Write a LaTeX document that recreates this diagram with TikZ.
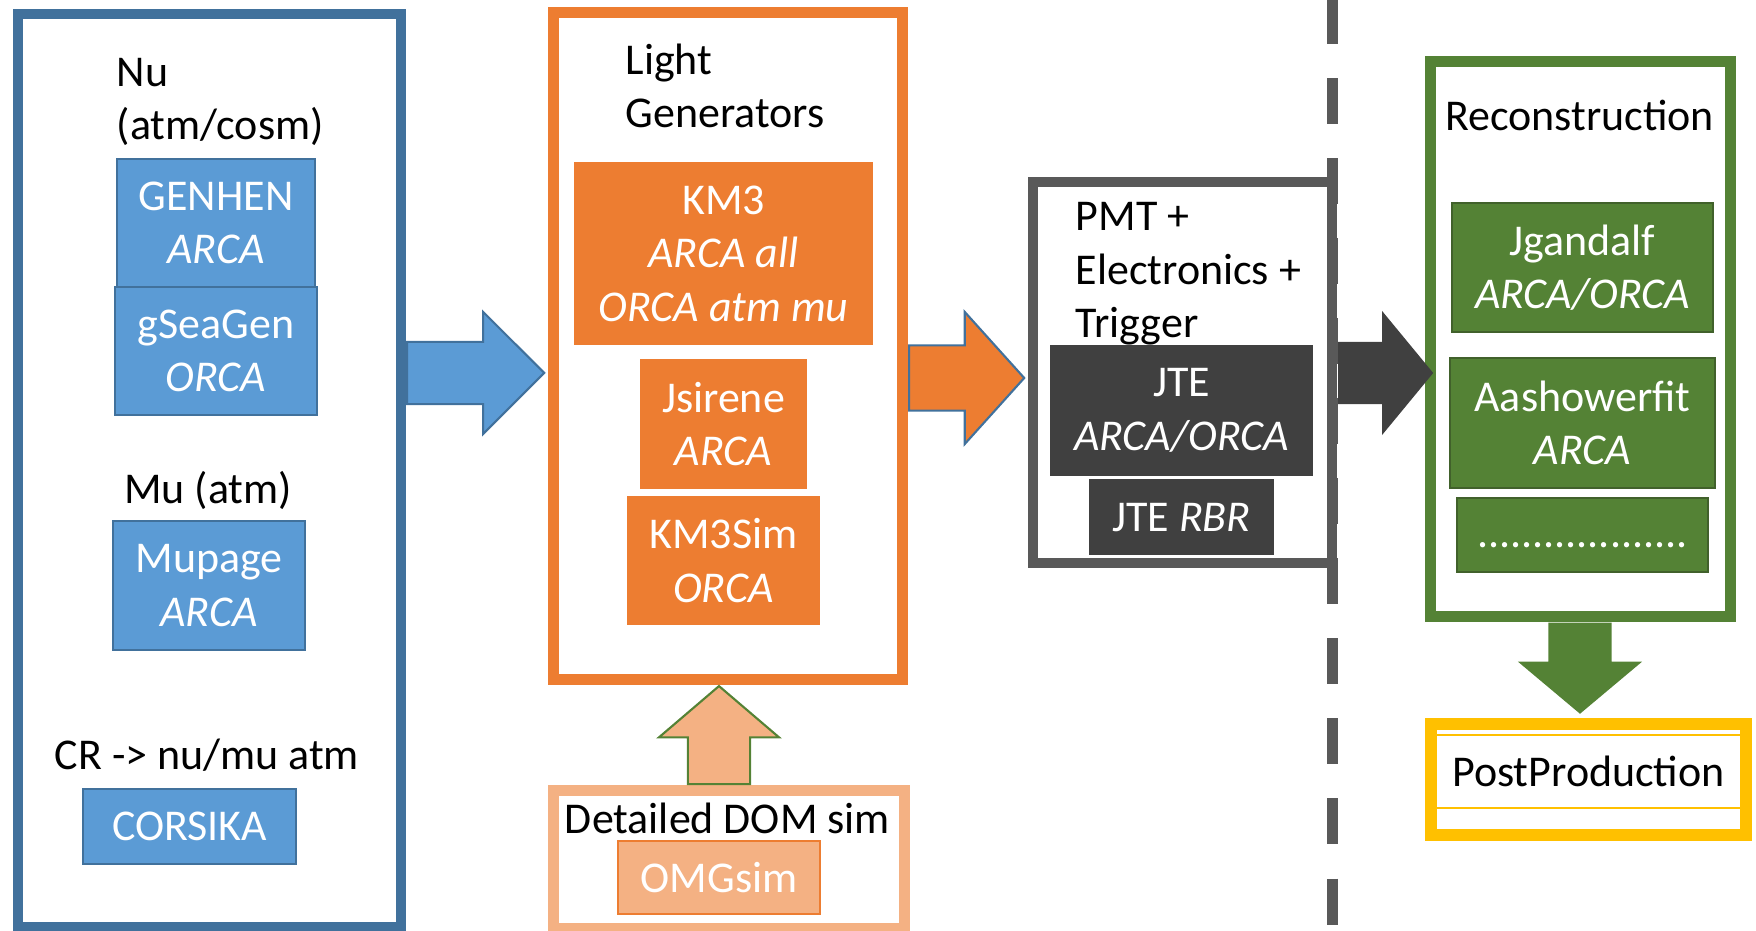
\documentclass[tikz,border=0pt]{standalone}
\usepackage{fontspec}
\setmainfont{Carlito}
\usetikzlibrary{positioning,shapes.arrows}

\definecolor{simblue}{HTML}{5B9BD5}
\definecolor{simblueline}{HTML}{41719C}
\definecolor{simorange}{HTML}{ED7D31}
\definecolor{simpeach}{HTML}{F4B183}
\definecolor{simgray}{HTML}{595959}
\definecolor{simdark}{HTML}{404040}
\definecolor{simgreen}{HTML}{548235}
\definecolor{simgreenline}{HTML}{41612B}
\definecolor{simyellow}{HTML}{FFC000}

\begin{document}
\begin{tikzpicture}[x=0.01cm, y=-0.01cm, on grid,
    every node/.style={inner sep=0pt, font=\fontsize{12.5}{15.2}\selectfont},
    stageframe/.style={draw=#1, line width=0.11cm},
    srcbox/.style={fill=simblue, draw=simblueline, line width=0.6pt, text=white, align=center},
    lightbox/.style={fill=simorange, text=white, align=center},
    trigbox/.style={fill=simdark, draw=black!75, line width=0.6pt, text=white, align=center},
    recobox/.style={fill=simgreen, draw=simgreenline, line width=0.6pt, text=white, align=center},
    lbl/.style={align=left, anchor=west},
    fat/.style={single arrow, anchor=tail, line width=0.6pt, inner xsep=0pt}]

    \useasboundingbox (0,0) rectangle (1756,931);

    % stage frames
    \node[stageframe=simblueline, line width=0.1cm, minimum width=3.83cm, minimum height=9.13cm] (gen) at (209.5,470.5) {};
    \node[stageframe=simorange, minimum width=3.49cm, minimum height=6.665cm] (light) at (728,345.75) {};
    \node[stageframe=simpeach, minimum width=3.505cm, minimum height=1.37cm] (dom) at (728.75,859.5) {};
    \node[stageframe=simgray, line width=0.1cm, minimum width=2.99cm, minimum height=3.81cm] (det) at (1182.5,372.5) {};
    \node[stageframe=simgreen, minimum width=2.99cm, minimum height=5.54cm] (reco) at (1580.5,339) {};
    \node[stageframe=simyellow, line width=0.12cm, minimum width=3.15cm, minimum height=1.11cm, text depth=0.16cm] (post) at (1588.5,779.5) {PostProduction};
    \draw[simyellow, line width=0.5pt] ([xshift=0.12cm, yshift=-0.17cm]post.north west) -- ([xshift=-0.12cm, yshift=-0.17cm]post.north east);
    \draw[simyellow, line width=0.5pt] ([xshift=0.12cm, yshift=0.33cm]post.south west) -- ([xshift=-0.12cm, yshift=0.33cm]post.south east);

    % generators
    \node[lbl] (nulbl) at (116,102) {Nu\\(atm/cosm)};
    \node[srcbox, minimum width=1.98cm, minimum height=1.28cm] (genhen) at (216,223) {GENHEN\\\textit{ARCA}};
    \node[srcbox, minimum width=2.02cm, minimum height=1.28cm] (gseagen) [below=1.28cm of genhen] {gSeaGen\\\textit{ORCA}};
    \node (mulbl) at (208,490) {Mu (atm)};
    \node[srcbox, minimum width=1.92cm, minimum height=1.29cm] (mupage) at (209,585.5) {Mupage\\\textit{ARCA}};
    \node (crlbl) at (207,755) {CR -> nu/mu atm};
    \node[srcbox, minimum width=2.13cm, minimum height=0.75cm] (corsika) at (189.5,826.5) {CORSIKA};

    % light
    \node[lbl] (lightlbl) at (625,86) {Light\\Generators};
    \node[lightbox, minimum width=2.99cm, minimum height=1.83cm] (km3) at (723.5,253.5) {KM3\\\textit{ARCA all}\\\textit{ORCA atm mu}};
    \node[lightbox, minimum width=1.66cm, minimum height=1.30cm] (jsirene) [below=1.705cm of km3] {Jsirene\\\textit{ARCA}};
    \node[lightbox, minimum width=1.93cm, minimum height=1.29cm] (km3sim) [below=1.365cm of jsirene] {KM3Sim\\\textit{ORCA}};
    \node (domlbl) at (727.5,818) {Detailed DOM sim};
    \node[fill=simpeach, draw=simorange, line width=0.6pt, text=white, minimum width=2.02cm, minimum height=0.73cm] (omgsim) at (719,877.5) {OMGsim};

    % detector
    \node[lbl] (detlbl) at (1075,274) {PMT +\\Electronics +\\Trigger};
    \node[trigbox, minimum width=2.61cm, minimum height=1.29cm] (jte) at (1181.5,410.5) {JTE\\\textit{ARCA/ORCA}};
    \node[trigbox, minimum width=1.83cm, minimum height=0.74cm] (jterbr) [below=1.065cm of jte] {JTE \textit{RBR}};
    \coordinate (cuttop) at (1332,-2);
    \coordinate (cutbot) at (1332,940);
    \draw[simgray, line width=0.11cm, dash pattern=on 0.46cm off 0.34cm] (cuttop) -- (cutbot);

    % reconstruction
    \node (recolbl) at (1579.5,115) {Reconstruction};
    \node[recobox, minimum width=2.61cm, minimum height=1.29cm] (jgandalf) at (1582.5,267.5) {Jgandalf\\\textit{ARCA/ORCA}};
    \node[recobox, minimum width=2.64cm, minimum height=1.30cm] (aashower) [below=1.555cm of jgandalf] {Aashowerfit\\\textit{ARCA}};
    \node[recobox, minimum width=2.51cm, minimum height=0.74cm, text height=0.24cm, text depth=0pt] (dots) [below=1.12cm of aashower] {...................};

    % flow
    \node[fat, fill=simblue, draw=simblueline, minimum height=1.37cm, inner ysep=0.30cm, single arrow head extend=0.3cm, single arrow tip angle=90] (genarrow) at (gen.east |- 0,373) {};
    \node[fat, fill=simorange, draw=simblueline, minimum height=1.15cm, inner ysep=0.315cm, single arrow head extend=0.335cm, single arrow tip angle=96] (lightarrow) at (light.east |- 0,378) {};
    \node[fat, fill=simdark, minimum height=0.95cm, inner ysep=0.30cm, single arrow head extend=0.31cm, single arrow tip angle=101] (detarrow) at (det.east |- 0,373) {};
    \node[fat, fill=simpeach, draw=simgreen, rotate=90, anchor=tip, minimum height=0.98cm, inner ysep=0.30cm, single arrow head extend=0.29cm, single arrow tip angle=99] (domarrow) at (light.south -| 719,0) {};
    \node[fat, fill=simgreen, rotate=-90, minimum height=0.91cm, inner ysep=0.305cm, single arrow head extend=0.305cm, single arrow tip angle=100] (recoarrow) at (reco.south -| 1580,0) {};

\end{tikzpicture}
\end{document}
